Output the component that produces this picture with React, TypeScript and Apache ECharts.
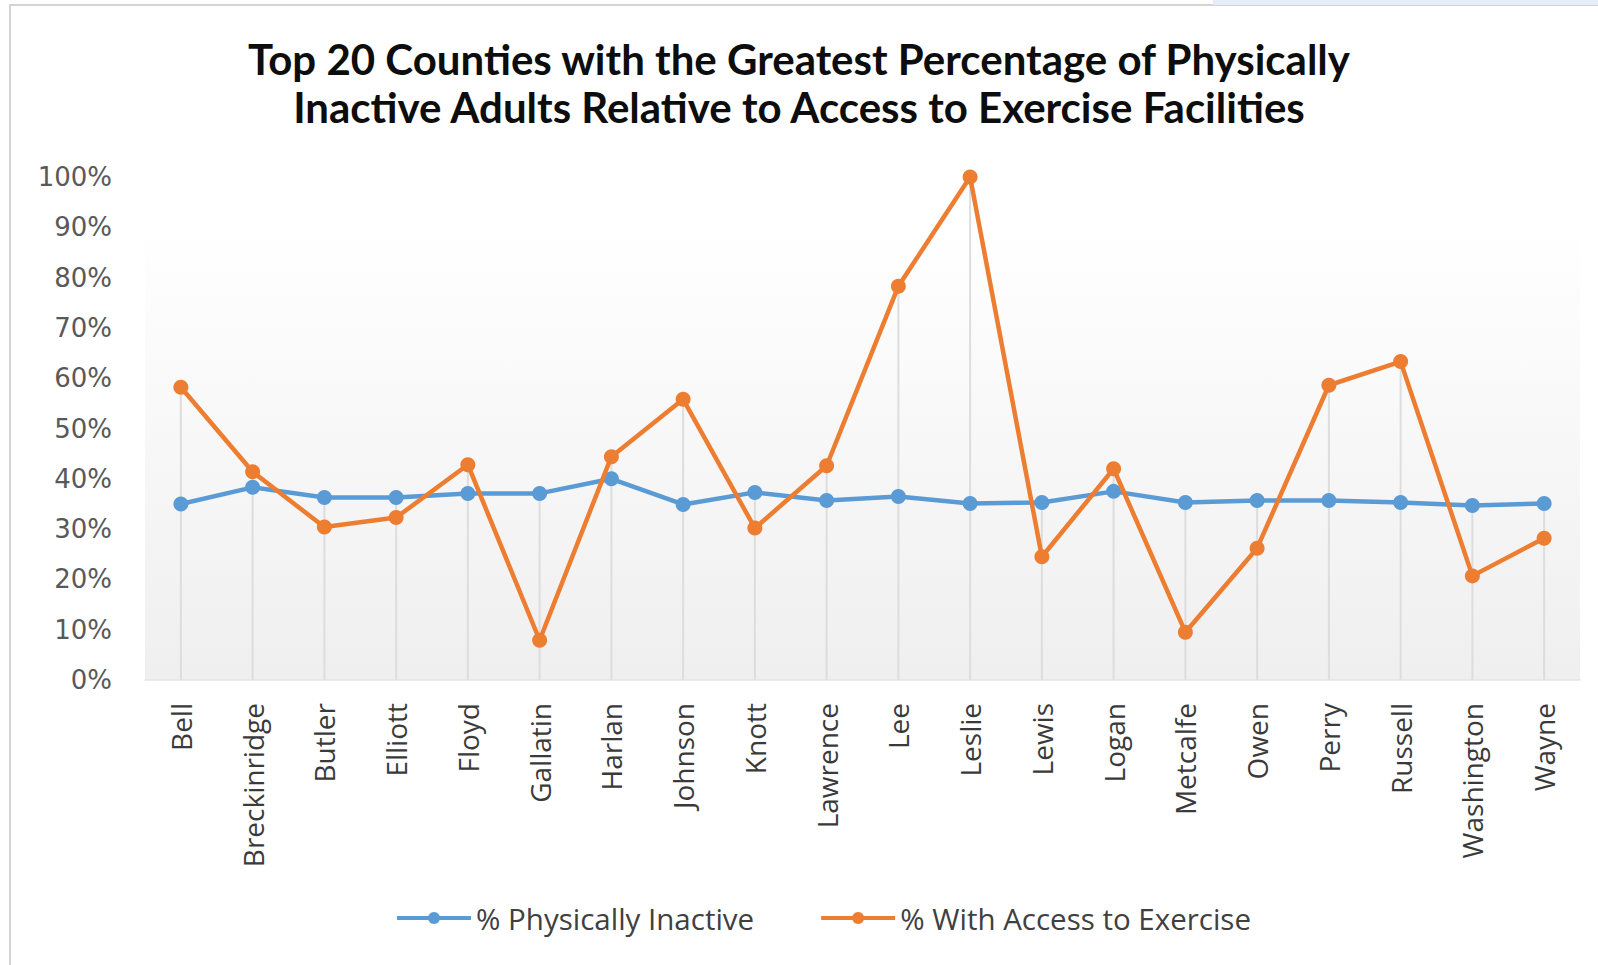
import React, { useEffect, useRef } from "react";
import * as echarts from "echarts";

const counties = [
  "Bell", "Breckinridge", "Butler", "Elliott", "Floyd", "Gallatin", "Harlan",
  "Johnson", "Knott", "Lawrence", "Lee", "Leslie", "Lewis", "Logan",
  "Metcalfe", "Owen", "Perry", "Russell", "Washington", "Wayne",
];

const physicallyInactive = [
  35.0, 38.3, 36.3, 36.3, 37.1, 37.1, 40.0, 34.9, 37.3, 35.7,
  36.5, 35.1, 35.3, 37.5, 35.3, 35.7, 35.7, 35.3, 34.7, 35.1,
];

const accessToExercise = [
  58.2, 41.4, 30.4, 32.3, 42.8, 7.9, 44.4, 55.8, 30.2, 42.6,
  78.3, 100.0, 24.5, 42.0, 9.5, 26.2, 58.6, 63.3, 20.7, 28.2,
];

const titleLines = [
  "Top 20 Counties with the Greatest Percentage of Physically",
  "Inactive Adults Relative to Access to Exercise Facilities",
];

const seriesNames = ["% Physically Inactive", "% With Access to Exercise"];

export default function App() {
  const ref = useRef<HTMLDivElement>(null);

  useEffect(() => {
    if (!ref.current) return;
    const chart = echarts.init(ref.current, null, { renderer: "svg" });
    // Excel-style drop lines: from the highest point of each category down to the axis
    const dropLineTops = physicallyInactive.map((v, i) => Math.max(v, accessToExercise[i]));
    chart.setOption({
      animation: false,
      backgroundColor: "#ffffff",
      title: {
        text: titleLines.join("\n"),
        left: "center",
        top: 30,
        textStyle: {
          fontFamily: "Lato, 'Open Sans', sans-serif",
          fontWeight: "bold",
          fontSize: 42,
          lineHeight: 48,
          color: "#0d0d0d",
        },
      },
      legend: {
        data: seriesNames,
        left: 390,
        top: 898,
        itemWidth: 74,
        itemHeight: 15,
        itemGap: 65,
        lineStyle: { width: 4 },
        textStyle: {
          fontFamily: "'Open Sans', sans-serif",
          fontSize: 29.5,
          color: "#404040",
        },
      },
      grid: {
        left: 145,
        right: 18,
        top: 177,
        bottom: 285,
        show: true,
        borderWidth: 0,
        backgroundColor: {
          type: "linear",
          x: 0,
          y: 0,
          x2: 0,
          y2: 1,
          colorStops: [
            { offset: 0, color: "#ffffff" },
            { offset: 0.1, color: "#ffffff" },
            { offset: 1, color: "#efefef" },
          ],
        },
      },
      xAxis: {
        type: "category",
        data: counties,
        boundaryGap: true,
        axisLine: { show: true, lineStyle: { color: "#e3e3e3", width: 1.5 } },
        axisTick: { show: false },
        splitLine: { show: false },
        axisLabel: {
          rotate: 90,
          margin: 23,
          fontFamily: "'Open Sans', sans-serif",
          fontSize: 28,
          color: "#3a3a3a",
          interval: 0,
        },
      },
      yAxis: {
        type: "value",
        min: 0,
        max: 100,
        interval: 10,
        axisLine: { show: false },
        axisTick: { show: false },
        splitLine: { show: false },
        axisLabel: {
          formatter: "{value}%",
          margin: 33,
          fontFamily: "'DejaVu Sans', sans-serif",
          fontSize: 26,
          color: "#595959",
        },
      },
      series: [
        {
          name: "drop lines",
          type: "bar",
          data: dropLineTops,
          barWidth: 2,
          itemStyle: { color: "#dddddd" },
          silent: true,
          z: 1,
        },
        {
          name: seriesNames[0],
          type: "line",
          data: physicallyInactive,
          symbol: "circle",
          symbolSize: 15,
          lineStyle: { color: "#5B9BD5", width: 4.5 },
          itemStyle: { color: "#5B9BD5" },
          z: 3,
        },
        {
          name: seriesNames[1],
          type: "line",
          data: accessToExercise,
          symbol: "circle",
          symbolSize: 15,
          lineStyle: { color: "#ED7D31", width: 4.5 },
          itemStyle: { color: "#ED7D31" },
          z: 4,
        },
      ],
      graphic: [
        {
          type: "rect",
          shape: { x: 10, y: 5, width: 1620, height: 1000 },
          style: { fill: "none", stroke: "#d4d4d4", lineWidth: 2 },
          silent: true,
        },
        {
          type: "rect",
          shape: { x: 1213, y: 0, width: 385, height: 5 },
          style: { fill: "#e3eef9" },
          silent: true,
        },
      ],
    });
    return () => chart.dispose();
  }, []);

  return (
    <div
      ref={ref}
      style={{ position: "absolute", left: 0, top: 0, width: 1598, height: 965 }}
    />
  );
}
